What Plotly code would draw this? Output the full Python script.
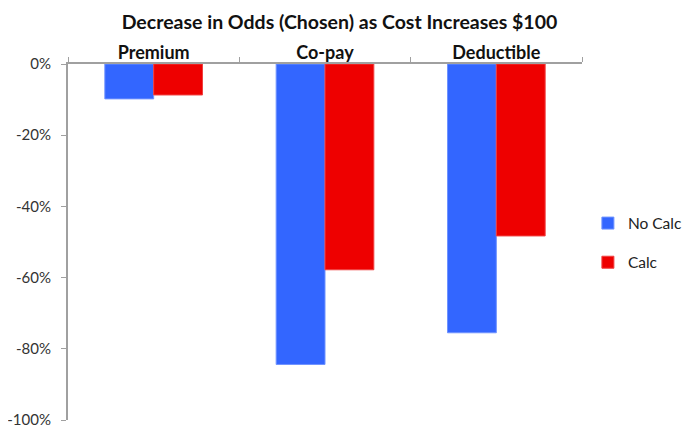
import plotly.graph_objects as go

categorias = ["Premium", "Co-pay", "Deductible"]
no_calc = [-9.8, -84.4, -75.5]
calc = [-8.7, -57.8, -48.3]
y_ticks = [0, -20, -40, -60, -80, -100]
y_labels = ["0%", "-20%", "-40%", "-60%", "-80%", "-100%"]

fig = go.Figure()
fig.add_trace(go.Bar(x=categorias, y=no_calc, name="No Calc", legendgroup="a",
                     marker=dict(color="#3366FF", line=dict(color="#6f93ff", width=1))))
fig.add_trace(go.Bar(x=categorias, y=calc, name="Calc", legendgroup="b",
                     marker=dict(color="#EE0000", line=dict(color="#f04040", width=1))))

# la pagina tiene 8px de margen en el body, se compensa en los margenes
fig.update_layout(
    width=692, height=436,
    paper_bgcolor="white", plot_bgcolor="white",
    font=dict(family="Lato", size=14, color="#222"),
    title=dict(text="<b>Decrease in Odds (Chosen) as Cost Increases $100</b>",
               x=0.479, xanchor="center", y=0.968, yanchor="middle",
               font=dict(size=19.5, color="#111")),
    margin=dict(l=60, r=118, t=56, b=24),
    barmode="group", bargap=0.43, bargroupgap=0,
    showlegend=True,
    legend=dict(xref="container", yref="container", x=0.838, y=0.461,
                xanchor="left", yanchor="middle",
                tracegroupgap=16, font=dict(size=15.5), itemwidth=30),
)
fig.update_xaxes(side="top", showline=True, linecolor="#a0a0a0", linewidth=2,
                 ticks="outside", tickson="boundaries", ticklen=5, tickcolor="#a0a0a0",
                 tickfont=dict(size=18, color="#111"), automargin=False,
                 ticklabelstandoff=-4,
                 tickprefix="<b>", ticksuffix="</b>", showgrid=False)
fig.update_yaxes(range=[-100, 0], tickvals=y_ticks, ticktext=y_labels,
                 showline=True, linecolor="#a0a0a0", linewidth=2,
                 ticks="outside", ticklen=5, tickcolor="#a0a0a0", automargin=False,
                 ticklabelstandoff=7,
                 showgrid=False, zeroline=False, tickfont=dict(size=15, color="#333"))

fig.write_html("out.html")
